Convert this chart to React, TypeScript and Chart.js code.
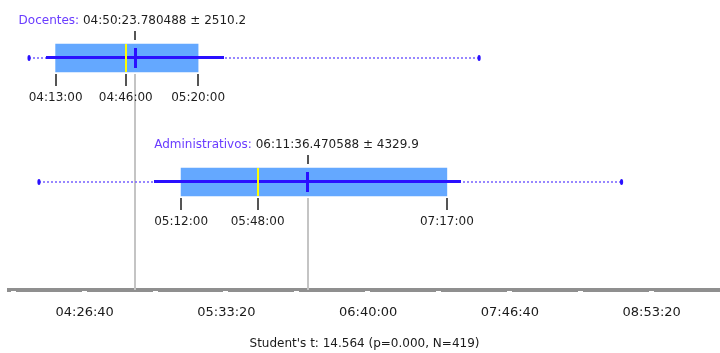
import React, { useEffect, useRef } from 'react';
import { Chart, registerables } from 'chart.js';

Chart.register(...registerables);

// ---- data ----
const categories = ['Docentes', 'Administrativos'];
const means = [17423.780488, 22296.470588]; // seconds since midnight
const stdDevs = [2510.2, 4329.9];
const q1s = [15180, 18720];
const medians = [17160, 20880];
const q3s = [19200, 26220];
const mins = [14430, 14710];
const maxs = [27130, 31150];
const axisTicks = [14000, 16000, 18000, 20000, 22000, 24000, 26000, 28000, 30000, 32000];
const labelledTicks = [16000, 20000, 24000, 28000, 32000];
const axisMin = 13864;
const axisMax = 33928;
const testLabel = "Student's t: 14.564 (p=0.000, N=419)";

const FONT = '"DejaVu Sans", "Noto Sans", sans-serif';

const pad2 = (n: number) => String(n).padStart(2, '0');
function hms(sec: number, frac = false): string {
  const h = Math.floor(sec / 3600);
  const m = Math.floor((sec - h * 3600) / 60);
  const s = sec - h * 3600 - m * 60;
  const sStr = frac ? s.toFixed(6).padStart(9, '0') : pad2(Math.round(s));
  return pad2(h) + ':' + pad2(m) + ':' + sStr;
}

// align a coordinate so that a line of the given width is drawn crisply
const crisp = (v: number, w: number) => (w % 2 === 0 ? Math.round(v) : Math.round(v - 0.5) + 0.5);

const decorPlugin = {
  id: 'boxDecor',
  afterDatasetsDraw(chart: any) {
    const { ctx, scales, chartArea } = chart;
    const x = scales.x;
    const y = scales.y;
    const px = (v: number) => x.getPixelForValue(v);
    const vline = (xv: number, y1: number, y2: number, w: number) => {
      const xx = crisp(xv, w);
      ctx.lineWidth = w;
      ctx.beginPath();
      ctx.moveTo(xx, Math.round(y1));
      ctx.lineTo(xx, Math.round(y2));
      ctx.stroke();
    };
    const hline = (x1: number, x2: number, yv: number, w: number) => {
      const yy = crisp(yv, w);
      ctx.lineWidth = w;
      ctx.beginPath();
      ctx.moveTo(Math.round(x1), yy);
      ctx.lineTo(Math.round(x2), yy);
      ctx.stroke();
    };
    ctx.save();
    categories.forEach((cat, i) => {
      const yc = y.getPixelForValue(i + 1);
      const mx = px(means[i]);
      // grey reference line from the mean down to the axis
      ctx.setLineDash([]);
      ctx.strokeStyle = '#c4c4c4';
      vline(mx, yc + 16, chartArea.bottom, 2);
      // dotted min-max range
      ctx.strokeStyle = 'rgba(125,105,255,0.8)';
      ctx.setLineDash([2, 2]);
      hline(px(mins[i]), px(maxs[i]), yc, 2);
      ctx.setLineDash([]);
      // end markers
      ctx.fillStyle = '#2a10ff';
      [mins[i], maxs[i]].forEach((v) => {
        ctx.beginPath();
        ctx.ellipse(px(v), crisp(yc, 2), 1.6, 3, 0, 0, Math.PI * 2);
        ctx.fill();
      });
      // mean +- sd
      ctx.strokeStyle = '#2a10ff';
      hline(px(means[i] - stdDevs[i]), px(means[i] + stdDevs[i]), yc, 3);
      // median
      ctx.strokeStyle = '#ffff00';
      vline(px(medians[i]), yc - 14, yc + 14, 2);
      // mean marker
      ctx.strokeStyle = '#2a10ff';
      vline(mx, yc - 10, yc + 10, 3);
      // tick marks
      ctx.strokeStyle = '#555555';
      vline(mx, yc - 27, yc - 18, 2);
      [q1s[i], medians[i], q3s[i]].forEach((v) => vline(px(v), yc + 16, yc + 28, 2));
      // quartile labels
      ctx.font = '12px ' + FONT;
      ctx.fillStyle = '#1e1e1e';
      ctx.textAlign = 'center';
      ctx.textBaseline = 'middle';
      [q1s[i], medians[i], q3s[i]].forEach((v) => ctx.fillText(hms(v), px(v), yc + 40));
      // title label
      const valueText = hms(means[i], true) + ' \u00b1 ' + stdDevs[i].toFixed(1);
      const right = mx + 111;
      ctx.textAlign = 'right';
      ctx.fillText(valueText, right, yc - 37);
      const w = ctx.measureText(valueText).width;
      ctx.fillStyle = '#6a3cff';
      ctx.fillText(cat + ': ', right - w, yc - 37);
    });
    // white gaps on the axis line at each tick
    ctx.fillStyle = '#ffffff';
    x.ticks.forEach((t: any) => {
      const p = Math.round(x.getPixelForValue(t.value));
      ctx.fillRect(p - 3, x.top + 1, 5, 2);
    });
    ctx.restore();
  },
};

export default function App() {
  const canvasRef = useRef<HTMLCanvasElement | null>(null);

  useEffect(() => {
    document.body.style.margin = '0';
    const canvas = canvasRef.current;
    if (!canvas) return;
    const chart = new Chart(canvas, {
      type: 'bar',
      data: {
        datasets: [
          {
            data: categories.map((c, i) => ({ x: [q1s[i], q3s[i]], y: i + 1 })) as any,
            backgroundColor: '#64a8ff',
            borderWidth: 0,
            barThickness: 28,
          },
        ],
      },
      options: {
        indexAxis: 'y',
        animation: false,
        responsive: false,
        maintainAspectRatio: false,
        layout: { padding: { left: 9, right: 0, top: 0, bottom: 0 } },
        plugins: {
          legend: { display: false },
          tooltip: { enabled: false },
        },
        scales: {
          x: {
            type: 'linear',
            position: 'bottom',
            min: axisMin,
            max: axisMax,
            offset: false,
            grid: { display: false, drawTicks: false },
            border: { display: true, color: '#8f8f8f', width: 4 },
            afterBuildTicks: (scale: any) => {
              scale.ticks = axisTicks.map((v) => ({ value: v }));
            },
            ticks: {
              autoSkip: false,
              maxRotation: 0,
              minRotation: 0,
              padding: 4,
              color: '#1a1a1a',
              font: { family: FONT, size: 13, lineHeight: 2.9 },
              callback: (v: any) => (labelledTicks.includes(Number(v)) ? hms(Number(v)) : ''),
            },
            title: {
              display: true,
              text: testLabel,
              color: '#1a1a1a',
              font: { family: FONT, size: 12 },
              padding: { top: 0, bottom: 2 },
            },
            afterFit: (scale: any) => {
              scale.height = 63;
            },
          },
          y: {
            type: 'linear',
            reverse: true,
            offset: false,
            min: 0.5323,
            max: 2.871,
            display: false,
          },
        },
      },
      plugins: [decorPlugin],
    } as any);
    return () => chart.destroy();
  }, []);

  return (
    <div style={{ width: 720, height: 353 }}>
      <canvas ref={canvasRef} width={720} height={353} style={{ width: 720, height: 353, display: 'block' }} />
    </div>
  );
}
